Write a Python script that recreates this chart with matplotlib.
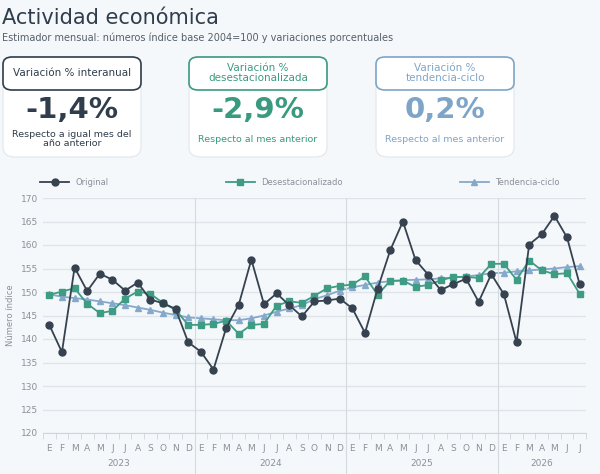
import matplotlib.pyplot as plt
from matplotlib.patches import FancyBboxPatch
import numpy as np

months = list("EFMAMJJASOND") * 3 + list("EFMAMJJ")
years = ["2023", "2024", "2025", "2026"]

original = [143.0, 137.2, 155.2, 150.2, 153.9, 152.6, 150.3, 152.0, 148.4, 147.6, 146.4, 139.3,
            137.3, 133.5, 142.3, 147.3, 156.9, 147.4, 149.7, 147.2, 144.8, 148.0, 148.2, 148.6,
            146.5, 141.3, 150.7, 158.9, 165.0, 156.8, 153.7, 150.4, 151.7, 152.8, 147.9, 153.8,
            149.5, 139.3, 160.1, 162.3, 166.2, 161.6, 151.6]
desest = [149.4, 150.1, 150.8, 147.5, 145.5, 146.0, 148.6, 150.1, 149.6, 147.7, 146.2, 143.0,
          143.0, 143.2, 143.9, 141.1, 143.0, 143.2, 147.1, 148.0, 147.7, 149.2, 150.8, 151.3,
          151.6, 153.3, 149.4, 152.4, 152.4, 151.1, 151.5, 152.5, 153.2, 153.2, 153.0, 156.0,
          156.0, 152.6, 156.7, 154.6, 153.8, 154.0, 149.6]
tendencia = [149.5, 149.0, 148.7, 148.4, 148.0, 147.6, 147.2, 146.7, 146.2, 145.6, 145.1, 144.6,
             144.4, 144.2, 144.0, 144.0, 144.4, 145.0, 145.8, 146.5, 147.2, 148.5, 149.3, 150.3,
             151.0, 151.5, 152.0, 152.3, 152.5, 152.6, 152.7, 152.9, 153.1, 153.3, 153.6, 154.0,
             154.1, 154.4, 154.6, 154.8, 155.0, 155.3, 155.5]

cards = [
    ("Variación % interanual", "-1,4%", "Respecto a igual mes del\naño anterior", "#2f3d4c"),
    ("Variación %\ndesestacionalizada", "-2,9%", "Respecto al mes anterior", "#3a9a80"),
    ("Variación %\ntendencia-ciclo", "0,2%", "Respecto al mes anterior", "#7ea5c8"),
]

bg = "#f5f8fb"
dark, teal, blue = "#36424f", "#3f9c84", "#86a9cb"
fig = plt.figure(figsize=(6, 4.74), dpi=100, facecolor=bg)
W, H = 600, 474


def fx(px):
    return px / W


def fy(py):
    return 1 - py / H


fig.text(fx(2), fy(18), "Actividad económica", fontsize=15, color="#2f3d4c", va="center")
fig.text(fx(2), fy(38), "Estimador mensual: números índice base 2004=100 y variaciones porcentuales",
         fontsize=7, color="#555e68", va="center")

for i, (head, val, sub, col) in enumerate(cards):
    x0 = [3, 189, 376][i]
    w = 138
    tb = FancyBboxPatch((fx(x0), fy(157)), fx(w), fy(57) - fy(157),
                        boxstyle="round,pad=0,rounding_size=0.02", transform=fig.transFigure,
                        facecolor="white", edgecolor="#e2e6ea", lw=0.8)
    fig.patches.append(tb)
    hb = FancyBboxPatch((fx(x0), fy(90)), fx(w), fy(57) - fy(90),
                        boxstyle="round,pad=0,rounding_size=0.015", transform=fig.transFigure,
                        facecolor="white", edgecolor=col, lw=1.2)
    fig.patches.append(hb)
    cx = fx(x0 + w / 2)
    fig.text(cx, fy(73), head, ha="center", va="center", fontsize=7.5, color=col,
             linespacing=0.95)
    fig.text(cx, fy(110), val, ha="center", va="center", fontsize=21, color=col,
             fontweight="semibold")
    fig.text(cx, fy(139), sub, ha="center", va="center", fontsize=6.8, color=col,
             linespacing=0.95)

ax = fig.add_axes([fx(43), fy(433), fx(586 - 43), fy(198) - fy(433)])
ax.set_facecolor(bg)
x = np.arange(len(original))
ax.plot(x, original, color=dark, marker="o", ms=5, lw=1.3, label="Original", zorder=4)
ax.plot(x, desest, color=teal, marker="s", ms=4.5, lw=1.3, label="Desestacionalizado", zorder=3)
ax.plot(x, tendencia, color=blue, marker="^", ms=4, lw=1.3, label="Tendencia-ciclo", zorder=2)

ax.set_xlim(-0.5, len(x) - 0.5)
ax.set_ylim(120, 170)
ax.set_yticks(range(120, 171, 5))
ax.grid(axis="y", color="#dfe4ea", lw=1)
ax.set_axisbelow(True)
for s in ax.spines.values():
    s.set_visible(False)
ax.spines["bottom"].set_visible(True)
ax.spines["bottom"].set_color("#cfd5db")
ax.tick_params(axis="y", length=0, labelsize=6.5, labelcolor="#8a9199")
ax.set_xticks(x)
ax.set_xticklabels(months)
ax.tick_params(axis="x", length=0, labelsize=6.5, labelcolor="#8a9199", pad=8)
ax.set_xticks(np.arange(-0.5, len(x), 1), minor=True)
ax.tick_params(axis="x", which="minor", length=4, color="#cfd5db")
ax.set_ylabel("Número índice", fontsize=6, color="#8a9199")

for b in [11.5, 23.5, 35.5]:
    ax.axvline(b, color="#d5dadf", lw=0.8, ymin=-0.2, clip_on=False)
for k, yr in enumerate(years):
    c = k * 12 + (5.5 if k < 3 else 3)
    ax.text(c, -0.13, yr, transform=ax.get_xaxis_transform(), ha="center", va="center",
            fontsize=6.5, color="#8a9199")

leg = fig.legend(loc="upper center", bbox_to_anchor=(0.5, fy(170)), ncol=3, frameon=False,
                 fontsize=6, labelcolor="#8a9199", columnspacing=14, handlelength=3.5)

fig.savefig("out.png", dpi=100, facecolor=bg)
